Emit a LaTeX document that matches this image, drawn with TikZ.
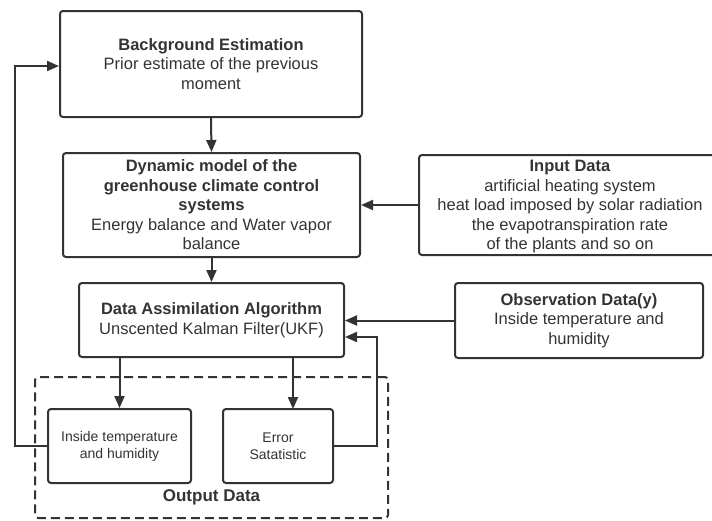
\documentclass[tikz,border=0pt]{standalone}
\usepackage{fontspec}
\setmainfont{Liberation Sans}
\usetikzlibrary{arrows.meta}
\definecolor{ln}{HTML}{333333}
\definecolor{tx}{HTML}{333333}
\tikzset{
  box/.style={draw=ln, line width=2pt, rounded corners=3pt, align=center, text=tx, inner sep=0pt,
    font=\fontsize{16.5}{19.5}\selectfont},
  smallbox/.style={box, font=\fontsize{14}{17}\selectfont},
  dashbox/.style={draw=ln, line width=2pt, dash pattern=on 9pt off 5pt, rounded corners=3pt},
  arr/.style={draw=ln, line width=2pt, -{Triangle[length=12pt,width=10pt]}},
  lbl/.style={text=tx, font=\fontsize{17}{19}\selectfont\bfseries}
}
\begin{document}
\begin{tikzpicture}[x=1pt,y=-1pt]
\useasboundingbox (0,0) rectangle (712,520);
\clip (0,0) rectangle (712,520);
\node[box, minimum width=302pt, minimum height=106pt] (bg) at (211,64)
  {\textbf{Background Estimation}\\Prior estimate of the previous\\moment};
\node[box, minimum width=297pt, minimum height=104pt] (dyn) at (211.5,205)
  {\textbf{Dynamic model of the}\\\textbf{greenhouse climate control}\\\textbf{systems}\\Energy balance and Water vapor\\balance};
\node[box, minimum width=265pt, minimum height=74pt] (da) at (211.5,320)
  {\textbf{Data Assimilation Algorithm}\\Unscented Kalman Filter(UKF)};
\node[box, minimum width=302pt, minimum height=100pt, text depth=0pt] (inp) at (570,205)
  {\textbf{Input Data}\\artificial heating system\\heat load imposed by solar radiation\\the evapotranspiration rate\\of the plants and so on};
\node[box, minimum width=248pt, minimum height=75pt] (obs) at (579,320.5)
  {\textbf{Observation Data(y)}\\Inside temperature and\\humidity};
\node[dashbox, minimum width=353pt, minimum height=141pt] (out) at (211.5,447.5) {};
\node[smallbox, minimum width=143pt, minimum height=74pt] (ins) at (119.5,446)
  {Inside temperature\\and humidity};
\node[smallbox, minimum width=110pt, minimum height=74pt] (err) at (278,446)
  {Error\\Satatistic};
\node[lbl] (outl) at (211.5,497) {Output Data};
\coordinate (e) at (293,409);
\coordinate (c1) at (15,66);
\coordinate (c2) at (377,337);
\draw[arr] (bg.south) -- (dyn.north);
\draw[arr] (dyn.south) -- (da.north);
\draw[arr] (da.south -| ins.north) -- (ins.north);
\draw[arr] (da.south -| e) -- (e);
\draw[arr] (inp.west) -- (inp.west -| dyn.east);
\draw[arr] (obs.west) -- (obs.west -| da.east);
\draw[arr] (err.east) -| (c2) -- (c2 -| da.east);
\draw[arr] (ins.west) -| (c1) -- (c1 -| bg.west);
\end{tikzpicture}
\end{document}
